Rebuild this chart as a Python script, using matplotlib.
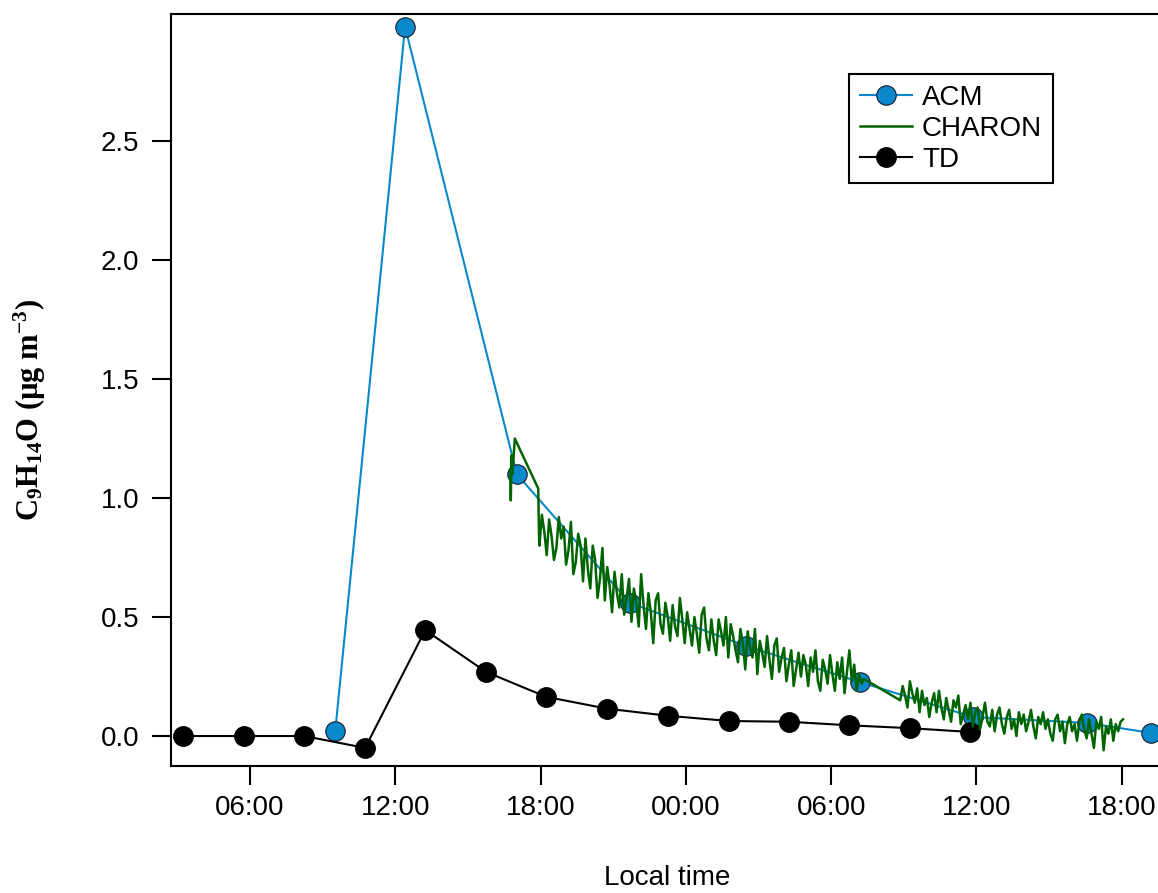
import numpy as np
import matplotlib
matplotlib.use('Agg')
from matplotlib import pyplot
import matplotlib.dates as mdates

# Время в часах от полуночи первого дня
acm_hours = [9.51, 12.40, 17.02, 21.69, 26.48, 31.19, 35.85, 40.56, 43.20]
acm_vals = [0.021, 2.98, 1.10, 0.56, 0.378, 0.227, 0.08, 0.055, 0.013]

td_hours = [3.23, 5.75, 8.23, 10.75, 13.23, 15.74, 18.22, 20.74, 23.26, 25.78,
            28.25, 30.73, 33.25, 35.73]
td_vals = [0.0, 0.0, 0.0, -0.05, 0.445, 0.27, 0.165, 0.115, 0.085, 0.063,
           0.06, 0.045, 0.033, 0.017]

# CHARON: начало ряда (нерегулярно), затем два участка с шагом 0.1 ч
charon_start_hours = [16.75, 16.77, 16.80, 16.83, 16.93, 17.90, 17.93]
charon_start_vals = [1.12, 0.99, 1.18, 1.10, 1.25, 1.04, 0.84]

charon_b_start = 17.95
charon_b_vals = [
    0.80, 0.93, 0.86, 0.76, 0.91, 0.84, 0.74, 0.79, 0.92, 0.83,
    0.88, 0.72, 0.78, 0.90, 0.68, 0.73, 0.85, 0.80, 0.65, 0.83,
    0.70, 0.62, 0.80, 0.74, 0.58, 0.66, 0.79, 0.57, 0.71, 0.63,
    0.52, 0.69, 0.60, 0.54, 0.68, 0.51, 0.58, 0.66, 0.48, 0.62,
    0.56, 0.46, 0.68, 0.55, 0.45, 0.60, 0.52, 0.39, 0.57, 0.60,
    0.47, 0.43, 0.56, 0.50, 0.40, 0.55, 0.46, 0.42, 0.58, 0.49,
    0.39, 0.52, 0.45, 0.38, 0.50, 0.43, 0.35, 0.51, 0.54, 0.41,
    0.36, 0.49, 0.40, 0.34, 0.49, 0.44, 0.38, 0.50, 0.33, 0.47,
    0.42, 0.36, 0.31, 0.45, 0.39, 0.28, 0.44, 0.37, 0.33, 0.45,
    0.26, 0.40, 0.35, 0.29, 0.42, 0.32, 0.24, 0.38, 0.41, 0.27,
    0.33, 0.37, 0.23, 0.30, 0.36, 0.21, 0.28, 0.35, 0.25, 0.34,
    0.30, 0.21, 0.33, 0.27, 0.36, 0.23, 0.19, 0.32, 0.28, 0.22,
    0.34, 0.26, 0.19, 0.31, 0.24, 0.33, 0.18, 0.27, 0.36, 0.23,
    0.30, 0.19, 0.26, 0.22, 0.24]

charon_c_start = 32.85
charon_c_vals = [
    0.15, 0.21, 0.17, 0.12, 0.23, 0.18, 0.14, 0.20, 0.10, 0.19,
    0.13, 0.16, 0.08, 0.14, 0.18, 0.10, 0.19, 0.12, 0.07, 0.16,
    0.11, 0.06, 0.15, 0.12, 0.17, 0.05, 0.09, 0.13, 0.07, 0.14,
    0.04, 0.10, 0.12, 0.03, 0.08, 0.14, 0.06, 0.04, 0.11, 0.02,
    0.09, 0.12, 0.05, 0.01, 0.08, 0.11, 0.03, 0.07, 0.00, 0.10,
    0.05, 0.09, 0.02, 0.06, 0.11, 0.04, -0.01, 0.08, 0.05, 0.10,
    0.03, 0.07, 0.01, -0.02, 0.07, 0.09, 0.02, 0.06, -0.03, 0.05,
    0.08, 0.02, 0.05, -0.02, 0.06, 0.09, 0.03, -0.01, 0.07, 0.01,
    -0.05, 0.06, 0.03, 0.08, -0.06, 0.04, 0.01, 0.07, -0.02, 0.05,
    0.02, 0.06, 0.07]

step = 0.1
charon_hours = (charon_start_hours
                + [charon_b_start + i * step for i in range(len(charon_b_vals))]
                + [charon_c_start + i * step for i in range(len(charon_c_vals))])
charon_vals = charon_start_vals + charon_b_vals + charon_c_vals

base = np.datetime64('2000-01-01T00:00')


def to_time(hours):
    return base + (np.array(hours) * 60).round().astype('timedelta64[m]')


pyplot.rcParams['font.family'] = ['Liberation Sans', 'DejaVu Sans']
pyplot.rcParams['mathtext.fontset'] = 'custom'
pyplot.rcParams['mathtext.rm'] = 'Liberation Serif:bold'
pyplot.rcParams['mathtext.it'] = 'Liberation Serif:bold'
pyplot.rcParams['mathtext.bf'] = 'Liberation Serif:bold'
pyplot.rcParams['mathtext.default'] = 'rm'

fig = pyplot.figure(figsize=(11.58, 8.93), dpi=100)
ax = fig.add_axes([171 / 1158, 1 - 766 / 893, 1000 / 1158, 752 / 893])

blue = '#0a88cc'
ax.plot(to_time(acm_hours), acm_vals, color=blue, lw=1.5, marker='o', ms=14,
        mfc=blue, mec='#1a1a2a', mew=0.8, label='ACM', zorder=2)
ax.plot(to_time(td_hours), td_vals, color='black', lw=1.5, marker='o', ms=14,
        mfc='black', mec='black', label='TD', zorder=3)
ax.plot(to_time(charon_hours), charon_vals, color='#006400', lw=1.8,
        label='CHARON', zorder=4)

# Пределы осей
ax.set_xlim(to_time([2.74])[0], to_time([44.03])[0])
ax.set_ylim(-0.126, 3.034)

ax.xaxis.set_major_locator(mdates.HourLocator(byhour=[0, 6, 12, 18]))
ax.xaxis.set_major_formatter(mdates.DateFormatter('%H:%M'))
ax.set_yticks([0, 0.5, 1.0, 1.5, 2.0, 2.5])
ax.set_yticklabels(['0.0', '0.5', '1.0', '1.5', '2.0', '2.5'])

ax.tick_params(direction='out', length=14, width=1.5, labelsize=20, pad=7)
ax.tick_params(axis='y', pad=9)
for s in ax.spines.values():
    s.set_linewidth(1.5)

# Подписи осей
fig.text(667 / 1158, 1 - 878 / 893, 'Local time', fontsize=20,
         ha='center', va='center')
fig.text(30 / 1158, 1 - 410 / 893, 'C$_9$H$_{14}$O (µg m$^{-3}$)', fontsize=22,
         family='Liberation Serif', weight='bold', rotation=90,
         ha='center', va='center')

h, l = ax.get_legend_handles_labels()
order = [0, 2, 1]
leg = ax.legend([h[i] for i in order], [l[i] for i in order], loc='upper left',
                bbox_to_anchor=(849 / 1158, 1 - 74 / 893),
                bbox_transform=fig.transFigure,
                fontsize=20, fancybox=False, edgecolor='black', framealpha=1,
                handlelength=1.9, handletextpad=0.35, labelspacing=0.18,
                borderpad=0.38, borderaxespad=0)
leg.get_frame().set_linewidth(1.5)

fig.savefig('out.png')
